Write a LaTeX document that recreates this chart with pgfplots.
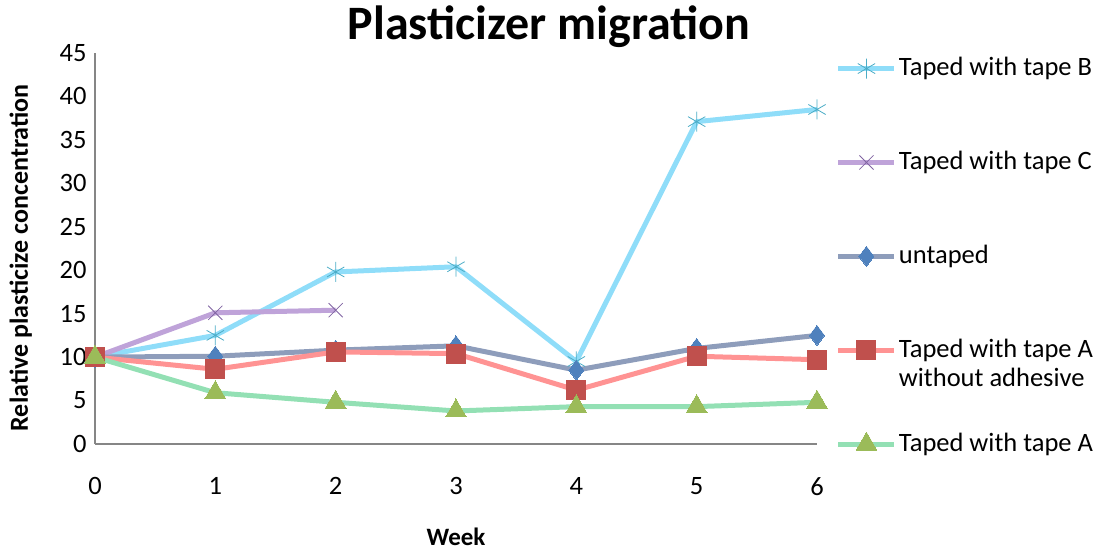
\documentclass[border=0pt]{standalone}
\usepackage{fontspec}
\setmainfont{Carlito}
\usepackage{pgfplots}
\pgfplotsset{compat=1.18}

\definecolor{lineB}{RGB}{143,221,249}
\definecolor{markB}{RGB}{75,172,198}
\definecolor{lineC}{RGB}{191,163,217}
\definecolor{markC}{RGB}{128,100,162}
\definecolor{lineU}{RGB}{142,157,187}
\definecolor{markU}{RGB}{79,129,189}
\definecolor{lineR}{RGB}{255,147,147}
\definecolor{markR}{RGB}{192,80,77}
\definecolor{lineG}{RGB}{147,224,180}
\definecolor{markG}{RGB}{155,187,89}
\definecolor{axgray}{RGB}{134,134,134}

\begin{document}
\begin{tikzpicture}
\path[use as bounding box] (-95pt,-105pt) rectangle (1001pt,444pt);
\begin{axis}[
    scale only axis,
    width=722pt, height=391pt,
    xmin=0, xmax=6, ymin=0, ymax=45,
    xtick={0,1,2,3,4,5,6},
    ytick={0,5,10,15,20,25,30,35,40,45},
    axis x line*=bottom, axis y line*=left,
    axis line style={axgray, line width=1.5pt, -},
    major tick length=0pt,
    tick label style={font=\fontsize{26.5}{31}\selectfont},
    /pgf/number format/assume math mode=true,
    xticklabel style={yshift=-30pt},
    yticklabel style={xshift=-5pt},
    xlabel={\bfseries Week},
    xlabel style={font=\fontsize{25}{30}\selectfont, inner sep=0pt, at={(axis description cs:0.5,0)}, anchor=base, yshift=-101pt},
    ylabel={\bfseries Relative plasticize concentration},
    ylabel style={font=\fontsize{26}{31}\selectfont, at={(axis description cs:-0.0928,0.476)}, anchor=base},
    clip=false,
    legend style={at={(axis description cs:1.026,0.995)}, anchor=north west,
        draw=none, fill=none, inner sep=0pt, row sep=70pt,
        font=\fontsize{26.5}{31}\selectfont,
        cells={anchor=base west}},
    legend image code/.code={
        \draw[#1, mark repeat=2, mark phase=2]
            plot coordinates {(0pt,7pt) (28pt,7pt) (56pt,7pt)};
    },
    every axis plot/.append style={line width=5pt, line join=round},
]
\addplot[lineB, mark=asterisk, mark size=10pt, mark options={markB, line width=0.8pt}]
    coordinates {(0,10) (1,12.5) (2,19.8) (3,20.4) (4,9.5) (5,37.1) (6,38.5)};
\addplot[lineC, mark=x, mark size=10pt, mark options={markC, line width=0.8pt}]
    coordinates {(0,10) (1,15.1) (2,15.4)};
\addplot[lineU, mark=diamond*, mark size=10pt, mark options={markU, fill=markU, line width=0pt}]
    coordinates {(0,10) (1,10.1) (2,10.8) (3,11.3) (4,8.5) (5,11.0) (6,12.5)};
\addplot[lineR, mark=square*, mark size=9.5pt, mark options={markR, fill=markR, line width=0pt}]
    coordinates {(0,10) (1,8.6) (2,10.6) (3,10.4) (4,6.2) (5,10.1) (6,9.7)};
\addplot[lineG, mark=triangle*, mark size=12pt, mark options={markG, fill=markG, line width=0pt}]
    coordinates {(0,10) (1,5.9) (2,4.8) (3,3.8) (4,4.3) (5,4.3) (6,4.8)};
\legend{Taped with tape B, Taped with tape C, untaped,
    {\vtop{\baselineskip=29pt \hbox{Taped with tape A}\hbox{without adhesive}\vskip-25pt}},
    Taped with tape A}
\end{axis}
\node[font=\fontsize{48}{55}\selectfont\bfseries] at (454pt,417pt) {Plasticizer migration};
\end{tikzpicture}
\end{document}
